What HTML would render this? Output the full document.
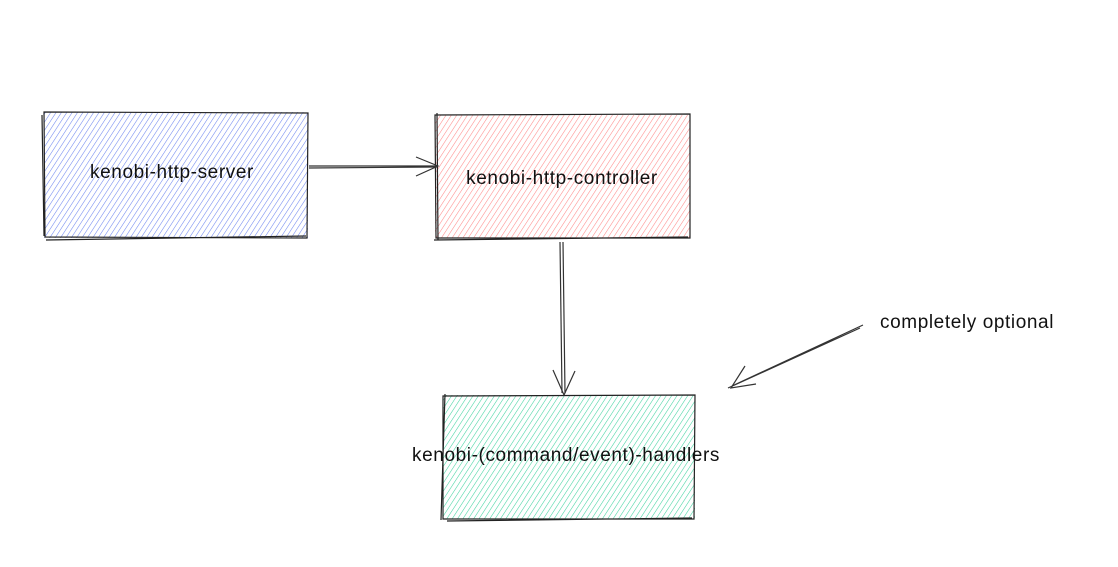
<!DOCTYPE html>
<html><head><meta charset="utf-8"><style>
html,body{margin:0;padding:0;background:#fff;}
svg{display:block;}
text{font-family:"Liberation Sans",sans-serif;font-size:19px;letter-spacing:0.6px;fill:#111;}
</style></head><body>
<svg width="1118" height="567" viewBox="0 0 1118 567">
<defs>
<pattern id="hb" width="4.5" height="5" patternUnits="userSpaceOnUse" patternTransform="rotate(33)">
<line x1="0" y1="0" x2="0" y2="5" stroke="#6f86f0" stroke-width="1.1"/></pattern>
<pattern id="hr" width="4.5" height="5" patternUnits="userSpaceOnUse" patternTransform="rotate(33)">
<line x1="0" y1="0" x2="0" y2="5" stroke="#ff8a8a" stroke-width="1.1"/></pattern>
<pattern id="hg" width="4.5" height="5" patternUnits="userSpaceOnUse" patternTransform="rotate(33)">
<line x1="0" y1="0" x2="0" y2="5" stroke="#40d3a0" stroke-width="1.1"/></pattern>
</defs>
<rect x="44" y="112" width="264" height="126" fill="url(#hb)"/>
<path d="M44 112 L308 113 L307 238 L45 237 Z M42 115 L44 236 M46 240 L306 236" fill="none" stroke="#222" stroke-width="1.2"/>
<rect x="435" y="115" width="255" height="123" fill="url(#hr)"/>
<path d="M435 115 L690 114 L690 238 L436 238 Z M437 113 L438 240 M434 240 L688 237" fill="none" stroke="#222" stroke-width="1.2"/>
<rect x="443" y="395" width="252" height="124" fill="url(#hg)"/>
<path d="M443 396 L695 395 L694 519 L443 519 Z M445 394 L441 520 M447 521 L692 518" fill="none" stroke="#222" stroke-width="1.2"/>
<g stroke="#333" stroke-width="1.2" fill="none">
<path d="M309 166 L437 166 M309 168 L437 167"/>
<path d="M416 157 L438 166 L416 176"/>
<path d="M560 242 L562 393 M563 242 L565 393"/>
<path d="M553 370 L564 395 L575 371"/>
<path d="M863 325 L732 386 M860 328 L728 388"/>
<path d="M745 366 L731 388 L756 384"/>
</g>
<text x="172" y="178" text-anchor="middle">kenobi-http-server</text>
<text x="562" y="184" text-anchor="middle">kenobi-http-controller</text>
<text x="566" y="461" text-anchor="middle">kenobi-(command/event)-handlers</text>
<text x="880" y="328">completely optional</text>
</svg>
</body></html>
